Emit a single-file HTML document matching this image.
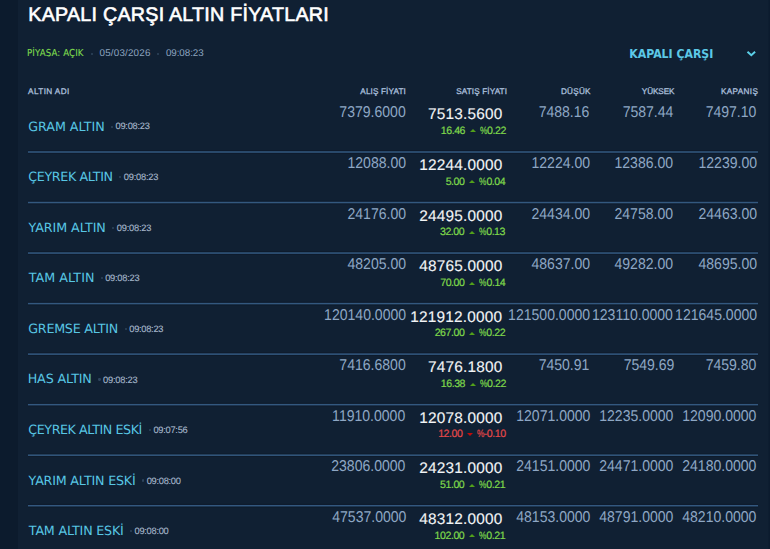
<!DOCTYPE html>
<html lang="tr"><head><meta charset="utf-8"><title>Kapalı Çarşı Altın Fiyatları</title>
<style>
*{margin:0;padding:0;box-sizing:border-box}
html,body{width:770px;height:549px;overflow:hidden;background:#102033}
body{font-family:"Liberation Sans",Arial,sans-serif;position:relative;text-rendering:geometricPrecision}
.strip{position:absolute;left:0;top:0;width:17.6px;height:549px;background:#0c1b2d}
.t{position:absolute;line-height:1;white-space:nowrap}
.r{text-align:right}
.dot{position:absolute;width:2.3px;height:2.3px;border-radius:50%;background:#2e445d}
i{display:inline-block;width:0;height:0;vertical-align:0.13em;margin:0 4.4px 0 4.6px}
b{display:inline-block;font-weight:400;transform:scaleX(0.78);margin:0 -1.0px}
.tu{border-left:3.4px solid transparent;border-right:3.4px solid transparent;border-bottom:3.8px solid #52a01a}
.td{border-left:3.1px solid transparent;border-right:3.1px solid transparent;border-top:3.9px solid #c40a0a;margin:0 3.8px 0 4.6px}

.title{font-size:19.7px;font-weight:400;color:#ffffff;-webkit-text-stroke:0.6px #ffffff}
.st{font-size:9.6px;font-weight:400;color:#7dda4e;font-family:"DejaVu Sans Condensed",sans-serif;-webkit-text-stroke:0.1px #7dda4e}
.meta{font-size:9.8px;font-weight:400;color:#8ea5c0}
.sel{font-size:12.2px;font-weight:700;color:#5cc8e6;font-family:"DejaVu Sans Condensed",sans-serif}
.hd{font-size:8.2px;font-weight:400;color:#a9bfda;-webkit-text-stroke:0.3px #a9bfda}
.nm{font-size:12.7px;font-weight:400;color:#58c6e4;font-family:"DejaVu Sans",sans-serif}
.tm{font-size:9.3px;font-weight:400;color:#a7b8cc;-webkit-text-stroke:0.1px #a7b8cc}
.al{font-size:15.6px;font-weight:400;color:#8ea7c4;transform:scaleX(0.9);transform-origin:100% 50%}
.sa{font-size:15.4px;font-weight:400;color:#f2f4f6;letter-spacing:0.2px;-webkit-text-stroke:0.12px #f2f4f6}
.up{font-size:10.6px;font-weight:400;color:#7fd84b;letter-spacing:-0.45px;-webkit-text-stroke:0.2px #7fd84b}
.dn{font-size:10.6px;font-weight:400;color:#e4484a;letter-spacing:-0.45px;-webkit-text-stroke:0.2px #e4484a}
.ot{font-size:15.6px;font-weight:400;color:#8ea7c4;transform:scaleX(0.9);transform-origin:100% 50%}
</style></head><body>
<div class="strip"></div>
<div class="t title" style="left:28.33px;top:6.20px;letter-spacing:0.242px">KAPALI ÇARŞI ALTIN FİYATLARI</div>
<div class="t st" style="left:27.03px;top:48.90px;letter-spacing:0.115px">PİYASA: AÇIK</div>
<div class="t meta" style="left:99.52px;top:49.21px;letter-spacing:0.202px">05/03/2026</div>
<div class="t meta" style="left:165.90px;top:49.21px;letter-spacing:-0.053px">09:08:23</div>
<div class="t sel" style="left:629.30px;top:48.10px;letter-spacing:-0.016px">KAPALI ÇARŞI</div>
<div class="t hd" style="left:28.10px;top:87.90px;letter-spacing:0.381px">ALTIN ADI</div>
<div class="t hd" style="left:360.31px;top:87.90px;letter-spacing:0.121px">ALIŞ FİYATI</div>
<div class="t hd" style="left:456.17px;top:87.90px;letter-spacing:0.116px">SATIŞ FİYATI</div>
<div class="t hd" style="left:560.90px;top:87.90px;letter-spacing:0.258px">DÜŞÜK</div>
<div class="t hd" style="left:641.75px;top:87.90px;letter-spacing:-0.077px">YÜKSEK</div>
<div class="t hd" style="left:721.06px;top:87.90px;letter-spacing:0.319px">KAPANIŞ</div>
<div class="t nm" style="left:28.22px;top:120.81px;letter-spacing:-0.028px">GRAM ALTIN</div>
<div class="t tm" style="left:115.51px;top:122.45px;letter-spacing:-0.250px">09:08:23</div>
<div class="t al r" style="right:364.61px;top:104.65px">7379.6000</div>
<div class="t sa r" style="right:267.56px;top:106.90px">7513.5600</div>
<div class="t up r" style="right:264.18px;top:125.71px">16.46<i class="tu"></i><b>%</b>0.22</div>
<div class="t ot r" style="right:180.32px;top:104.65px">7488.16</div>
<div class="t ot r" style="right:96.60px;top:104.65px">7587.44</div>
<div class="t ot r" style="right:13.33px;top:104.65px">7497.10</div>
<div class="t nm" style="left:28.33px;top:171.33px;letter-spacing:-0.376px">ÇEYREK ALTIN</div>
<div class="t tm" style="left:123.83px;top:173.40px;letter-spacing:-0.243px">09:08:23</div>
<div class="t al r" style="right:364.39px;top:156.05px">12088.00</div>
<div class="t sa r" style="right:267.56px;top:158.05px">12244.0000</div>
<div class="t up r" style="right:264.76px;top:176.83px">5.00<i class="tu"></i><b>%</b>0.04</div>
<div class="t ot r" style="right:180.29px;top:156.05px">12224.00</div>
<div class="t ot r" style="right:96.79px;top:156.05px">12386.00</div>
<div class="t ot r" style="right:12.89px;top:156.05px">12239.00</div>
<div class="t nm" style="left:28.59px;top:221.87px;letter-spacing:-0.074px">YARIM ALTIN</div>
<div class="t tm" style="left:116.83px;top:223.92px;letter-spacing:-0.243px">09:08:23</div>
<div class="t al r" style="right:364.39px;top:206.57px">24176.00</div>
<div class="t sa r" style="right:267.56px;top:208.57px">24495.0000</div>
<div class="t up r" style="right:264.99px;top:227.37px">32.00<i class="tu"></i><b>%</b>0.13</div>
<div class="t ot r" style="right:180.30px;top:206.57px">24434.00</div>
<div class="t ot r" style="right:96.80px;top:206.57px">24758.00</div>
<div class="t ot r" style="right:12.89px;top:206.57px">24463.00</div>
<div class="t nm" style="left:28.84px;top:272.39px;letter-spacing:0.019px">TAM ALTIN</div>
<div class="t tm" style="left:105.14px;top:274.46px;letter-spacing:-0.239px">09:08:23</div>
<div class="t al r" style="right:364.39px;top:257.09px">48205.00</div>
<div class="t sa r" style="right:267.56px;top:259.11px">48765.0000</div>
<div class="t up r" style="right:264.72px;top:277.90px">70.00<i class="tu"></i><b>%</b>0.14</div>
<div class="t ot r" style="right:180.29px;top:257.09px">48637.00</div>
<div class="t ot r" style="right:96.79px;top:257.09px">49282.00</div>
<div class="t ot r" style="right:12.89px;top:257.09px">48695.00</div>
<div class="t nm" style="left:28.22px;top:322.93px;letter-spacing:-0.241px">GREMSE ALTIN</div>
<div class="t tm" style="left:129.33px;top:324.98px;letter-spacing:-0.296px">09:08:23</div>
<div class="t al r" style="right:364.39px;top:307.63px">120140.0000</div>
<div class="t sa r" style="right:267.61px;top:309.63px">121912.0000</div>
<div class="t up r" style="right:264.89px;top:328.43px">267.00<i class="tu"></i><b>%</b>0.22</div>
<div class="t ot r" style="right:180.30px;top:307.63px">121500.0000</div>
<div class="t ot r" style="right:96.66px;top:307.63px">123110.0000</div>
<div class="t ot r" style="right:12.89px;top:307.63px">121645.0000</div>
<div class="t nm" style="left:27.69px;top:373.45px;letter-spacing:-0.140px">HAS ALTIN</div>
<div class="t tm" style="left:103.12px;top:375.50px;letter-spacing:-0.247px">09:08:23</div>
<div class="t al r" style="right:364.63px;top:358.15px">7416.6800</div>
<div class="t sa r" style="right:267.56px;top:360.15px">7476.1800</div>
<div class="t up r" style="right:264.18px;top:378.96px">16.38<i class="tu"></i><b>%</b>0.22</div>
<div class="t ot r" style="right:180.21px;top:358.15px">7450.91</div>
<div class="t ot r" style="right:96.12px;top:358.15px">7549.69</div>
<div class="t ot r" style="right:13.33px;top:358.15px">7459.80</div>
<div class="t nm" style="left:28.33px;top:423.98px;letter-spacing:-0.435px">ÇEYREK ALTIN ESKİ</div>
<div class="t tm" style="left:153.44px;top:426.04px;letter-spacing:-0.268px">09:07:56</div>
<div class="t al r" style="right:364.88px;top:408.69px">11910.0000</div>
<div class="t sa r" style="right:267.56px;top:410.69px">12078.0000</div>
<div class="t dn r" style="right:264.34px;top:429.49px">12.00<i class="td"></i><b>%</b>-0.10</div>
<div class="t ot r" style="right:179.93px;top:408.69px">12071.0000</div>
<div class="t ot r" style="right:96.61px;top:408.69px">12235.0000</div>
<div class="t ot r" style="right:13.37px;top:408.69px">12090.0000</div>
<div class="t nm" style="left:28.59px;top:474.51px;letter-spacing:-0.199px">YARIM ALTIN ESKİ</div>
<div class="t tm" style="left:146.66px;top:476.58px;letter-spacing:-0.275px">09:08:00</div>
<div class="t al r" style="right:364.85px;top:459.21px">23806.0000</div>
<div class="t sa r" style="right:267.56px;top:461.21px">24231.0000</div>
<div class="t up r" style="right:264.90px;top:480.02px">51.00<i class="tu"></i><b>%</b>0.21</div>
<div class="t ot r" style="right:179.78px;top:459.21px">24151.0000</div>
<div class="t ot r" style="right:96.54px;top:459.21px">24471.0000</div>
<div class="t ot r" style="right:13.33px;top:459.21px">24180.0000</div>
<div class="t nm" style="left:28.84px;top:525.05px;letter-spacing:-0.202px">TAM ALTIN ESKİ</div>
<div class="t tm" style="left:134.50px;top:527.10px;letter-spacing:-0.276px">09:08:00</div>
<div class="t al r" style="right:364.08px;top:509.74px">47537.0000</div>
<div class="t sa r" style="right:267.56px;top:511.75px">48312.0000</div>
<div class="t up r" style="right:264.91px;top:530.54px">102.00<i class="tu"></i><b>%</b>0.21</div>
<div class="t ot r" style="right:179.98px;top:509.74px">48153.0000</div>
<div class="t ot r" style="right:96.61px;top:509.74px">48791.0000</div>
<div class="t ot r" style="right:13.39px;top:509.74px">48210.0000</div>
<div class="dot" style="left:91.0px;top:53.2px"></div>
<div class="dot" style="left:156.5px;top:53.2px"></div>
<div class="dot" style="left:111.00px;top:125.60px"></div>
<div class="dot" style="left:119.20px;top:176.13px"></div>
<div class="dot" style="left:112.20px;top:226.66px"></div>
<div class="dot" style="left:100.70px;top:277.19px"></div>
<div class="dot" style="left:124.60px;top:327.72px"></div>
<div class="dot" style="left:98.40px;top:378.25px"></div>
<div class="dot" style="left:148.60px;top:428.78px"></div>
<div class="dot" style="left:142.10px;top:479.31px"></div>
<div class="dot" style="left:129.90px;top:529.84px"></div>
<svg style="position:absolute;left:0;top:0" width="770" height="549" viewBox="0 0 770 549"><rect x="28" y="150.25" width="730" height="1" fill="#0d1826" opacity="0.6"/><rect x="28" y="152.75" width="730" height="1" fill="#0d1826" opacity="0.6"/><rect x="28" y="151.25" width="730" height="1.5" fill="#33587f"/><rect x="28" y="200.78" width="730" height="1" fill="#0d1826" opacity="0.6"/><rect x="28" y="203.28" width="730" height="1" fill="#0d1826" opacity="0.6"/><rect x="28" y="201.78" width="730" height="1.5" fill="#33587f"/><rect x="28" y="251.31" width="730" height="1" fill="#0d1826" opacity="0.6"/><rect x="28" y="253.81" width="730" height="1" fill="#0d1826" opacity="0.6"/><rect x="28" y="252.31" width="730" height="1.5" fill="#33587f"/><rect x="28" y="301.84" width="730" height="1" fill="#0d1826" opacity="0.6"/><rect x="28" y="304.34" width="730" height="1" fill="#0d1826" opacity="0.6"/><rect x="28" y="302.84" width="730" height="1.5" fill="#33587f"/><rect x="28" y="352.37" width="730" height="1" fill="#0d1826" opacity="0.6"/><rect x="28" y="354.87" width="730" height="1" fill="#0d1826" opacity="0.6"/><rect x="28" y="353.37" width="730" height="1.5" fill="#33587f"/><rect x="28" y="402.90" width="730" height="1" fill="#0d1826" opacity="0.6"/><rect x="28" y="405.40" width="730" height="1" fill="#0d1826" opacity="0.6"/><rect x="28" y="403.90" width="730" height="1.5" fill="#33587f"/><rect x="28" y="453.43" width="730" height="1" fill="#0d1826" opacity="0.6"/><rect x="28" y="455.93" width="730" height="1" fill="#0d1826" opacity="0.6"/><rect x="28" y="454.43" width="730" height="1.5" fill="#33587f"/><rect x="28" y="503.96" width="730" height="1" fill="#0d1826" opacity="0.6"/><rect x="28" y="506.46" width="730" height="1" fill="#0d1826" opacity="0.6"/><rect x="28" y="504.96" width="730" height="1.5" fill="#33587f"/><rect x="768.6" y="0" width="2" height="549" fill="#0c1b2e"/></svg>
<svg style="position:absolute;left:745.7px;top:50.3px" width="10" height="7" viewBox="0 0 10 7"><path d="M1.5 1.7 L5.3 5.3 L9.1 1.7" fill="none" stroke="#5cd0e8" stroke-width="1.9"/></svg>
</body></html>
